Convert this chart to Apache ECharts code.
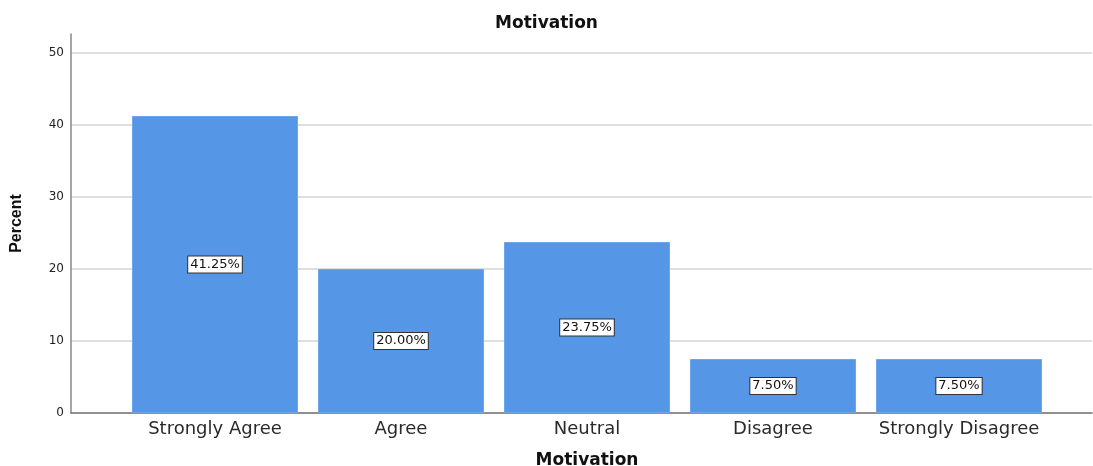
<!DOCTYPE html>
<html>
<head>
<meta charset="utf-8">
<script src="https://cdn.jsdelivr.net/npm/echarts@6/dist/echarts.min.js"></script>
<style>
html,body{margin:0;padding:0;background:#fff;}
#chart{width:1093px;height:466px;}
</style>
</head>
<body>
<div id="chart"></div>
<script>
const categories = ['Strongly Agree', 'Agree', 'Neutral', 'Disagree', 'Strongly Disagree'];
const percentValues = [41.25, 20.00, 23.75, 7.50, 7.50];
const yTicks = [0, 10, 20, 30, 40, 50];

const chart = echarts.init(document.getElementById('chart'), null, {renderer: 'canvas'});
const YMAX = 52.64;
const font = '"DejaVu Sans", Verdana, sans-serif';

chart.setOption({
  animation: false,
  backgroundColor: '#ffffff',
  title: {
    text: 'Motivation',
    left: 'center',
    top: 10,
    textStyle: {fontFamily: font, fontSize: 17, fontWeight: 'bold', color: '#111'}
  },
  grid: [
    {left: 71, right: 1, top: 34, bottom: 53, containLabel: false, outerBoundsMode: 'none'},
    {left: 122, width: 930, top: 34, bottom: 53, containLabel: false, outerBoundsMode: 'none'}
  ],
  xAxis: [
    {
      gridIndex: 0, type: 'value', min: 0, max: 1,
      axisLine: {show: true, onZero: false, lineStyle: {color: '#777', width: 1.5}},
      axisTick: {show: false}, axisLabel: {show: false}, splitLine: {show: false}
    },
    {
      gridIndex: 1, type: 'category', data: categories,
      axisLine: {show: false}, axisTick: {show: false},
      axisLabel: {interval: 0, fontFamily: font, fontSize: 18, color: '#2a2a2a', margin: 7},
      name: 'Motivation', nameLocation: 'middle', nameGap: 39,
      nameTextStyle: {fontFamily: font, fontSize: 17, fontWeight: 'bold', color: '#111'}
    }
  ],
  yAxis: [
    {
      gridIndex: 0, type: 'value', min: 0, max: YMAX, interval: 10,
      axisLine: {show: true, lineStyle: {color: '#888', width: 1.5}},
      axisTick: {show: false},
      axisLabel: {
        showMaxLabel: false, fontFamily: font, fontSize: 12, color: '#222', margin: 7,
        formatter: function (v) { return yTicks.indexOf(v) >= 0 ? String(v) : ''; }
      },
      splitLine: {show: true, showMaxLine: false, lineStyle: {color: '#d4d4d4', width: 1.5}},
      name: 'Percent', nameLocation: 'middle', nameGap: 46, nameRotate: 90,
      nameTextStyle: {fontFamily: '"Liberation Sans Narrow", "Liberation Sans", Arial, sans-serif', fontSize: 16, fontWeight: 'bold', color: '#111'}
    },
    {
      gridIndex: 1, type: 'value', min: 0, max: YMAX,
      show: false, splitLine: {show: false}
    }
  ],
  series: [{
    type: 'bar',
    xAxisIndex: 1, yAxisIndex: 1,
    data: percentValues,
    barWidth: 166,
    itemStyle: {color: '#5596e6', borderColor: '#6ea6ec', borderWidth: 1},
    label: {
      show: true, position: 'inside',
      formatter: function (p) { return p.value.toFixed(2) + '%'; },
      fontFamily: font, fontSize: 13, color: '#111',
      backgroundColor: '#ffffff', borderColor: '#333', borderWidth: 1,
      padding: [2, 2, 1, 2]
    }
  }]
});
</script>
</body>
</html>
